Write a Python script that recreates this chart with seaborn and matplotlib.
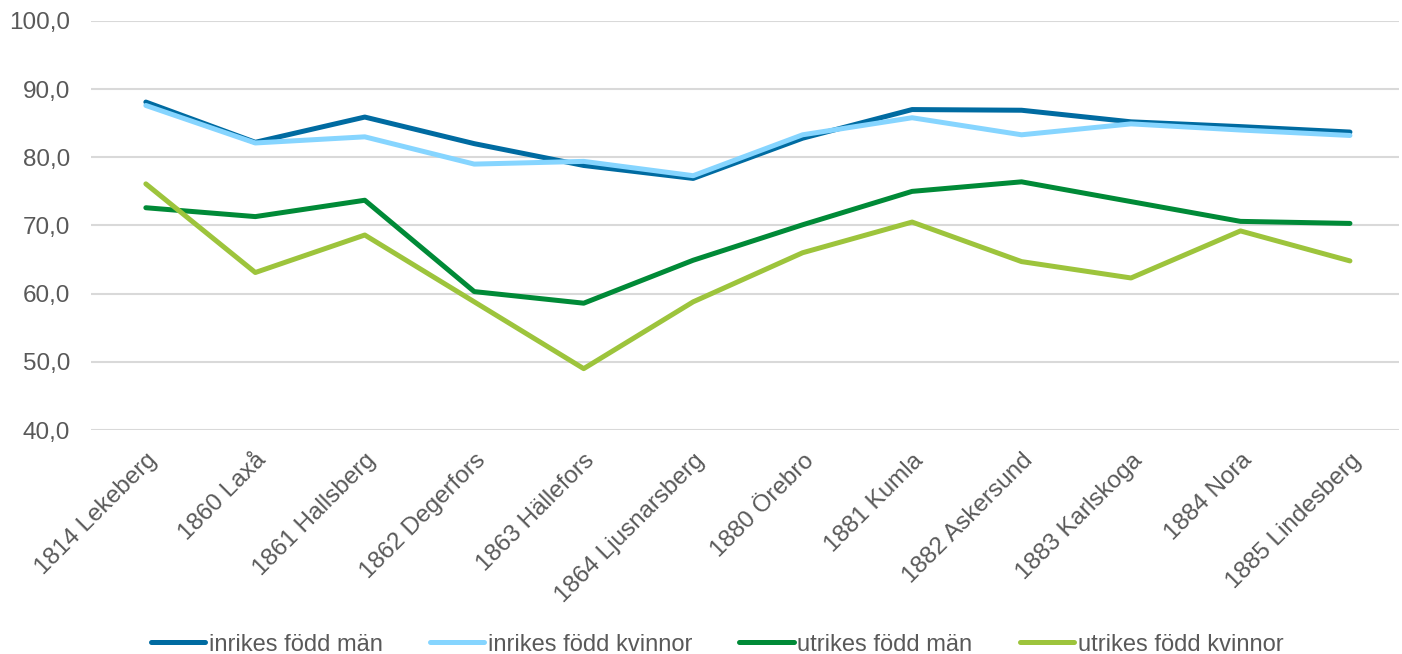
import matplotlib
matplotlib.use("Agg")
import matplotlib.pyplot as plt
import seaborn as sns
import pandas as pd

kommuner = ["1814 Lekeberg", "1860 Laxå", "1861 Hallsberg", "1862 Degerfors",
            "1863 Hällefors", "1864 Ljusnarsberg", "1880 Örebro", "1881 Kumla",
            "1882 Askersund", "1883 Karlskoga", "1884 Nora", "1885 Lindesberg"]

inrikes_man = [88.1, 82.2, 85.9, 82.0, 78.8, 76.9, 82.8, 87.0, 86.9, 85.2, 84.5, 83.7]
inrikes_kvinnor = [87.6, 82.1, 83.0, 79.0, 79.4, 77.3, 83.3, 85.8, 83.3, 84.9, 84.0, 83.2]
utrikes_man = [72.6, 71.3, 73.7, 60.3, 58.6, 64.9, 70.1, 75.0, 76.4, 73.5, 70.6, 70.3]
utrikes_kvinnor = [76.1, 63.1, 68.6, 58.8, 49.0, 58.8, 66.0, 70.5, 64.7, 62.3, 69.2, 64.8]

serier = ["inrikes född män", "inrikes född kvinnor", "utrikes född män", "utrikes född kvinnor"]
farger = ["#006BA1", "#86D5FF", "#008A37", "#9DC43C"]

df = pd.concat([
    pd.DataFrame({"kommun": kommuner, "andel": v, "grupp": s})
    for s, v in zip(serier, [inrikes_man, inrikes_kvinnor, utrikes_man, utrikes_kvinnor])
])

sns.set_style("white")
plt.rcParams["font.family"] = ["Liberation Sans", "DejaVu Sans"]

fig = plt.figure(figsize=(14.02, 6.54), dpi=100)
ax = fig.add_axes([0.065, 0.3425, 0.933, 0.6255])

sns.lineplot(data=df, x="kommun", y="andel", hue="grupp", hue_order=serier,
             palette=farger, linewidth=3.6, sort=False, ax=ax, legend=True)

ax.set_ylim(40, 100)
ax.set_yticks(range(40, 101, 10))
ax.set_yticklabels([f"{v},0" for v in range(40, 101, 10)])
ax.set_xlim(-0.5, 11.45)
ax.grid(axis="y", color="#D9D9D9", linewidth=1.5)
ax.set_axisbelow(True)
for s in ax.spines.values():
    s.set_visible(False)
ax.tick_params(length=0, labelsize=17.5, labelcolor="#595959")
ax.tick_params(axis="y", pad=15)
ax.tick_params(axis="x", pad=14)
plt.setp(ax.get_xticklabels(), rotation=45, ha="right", rotation_mode="anchor")
ax.set_xlabel("")
ax.set_ylabel("")

h, l = ax.get_legend_handles_labels()
ax.legend_.remove()
fig.legend(h, l, loc="lower center", bbox_to_anchor=(0.5115, -0.035), ncol=4,
           frameon=False, fontsize=17, labelcolor="#595959",
           handlelength=2.3, handletextpad=0.15, columnspacing=2.0)

fig.savefig("out.png", dpi=100)
